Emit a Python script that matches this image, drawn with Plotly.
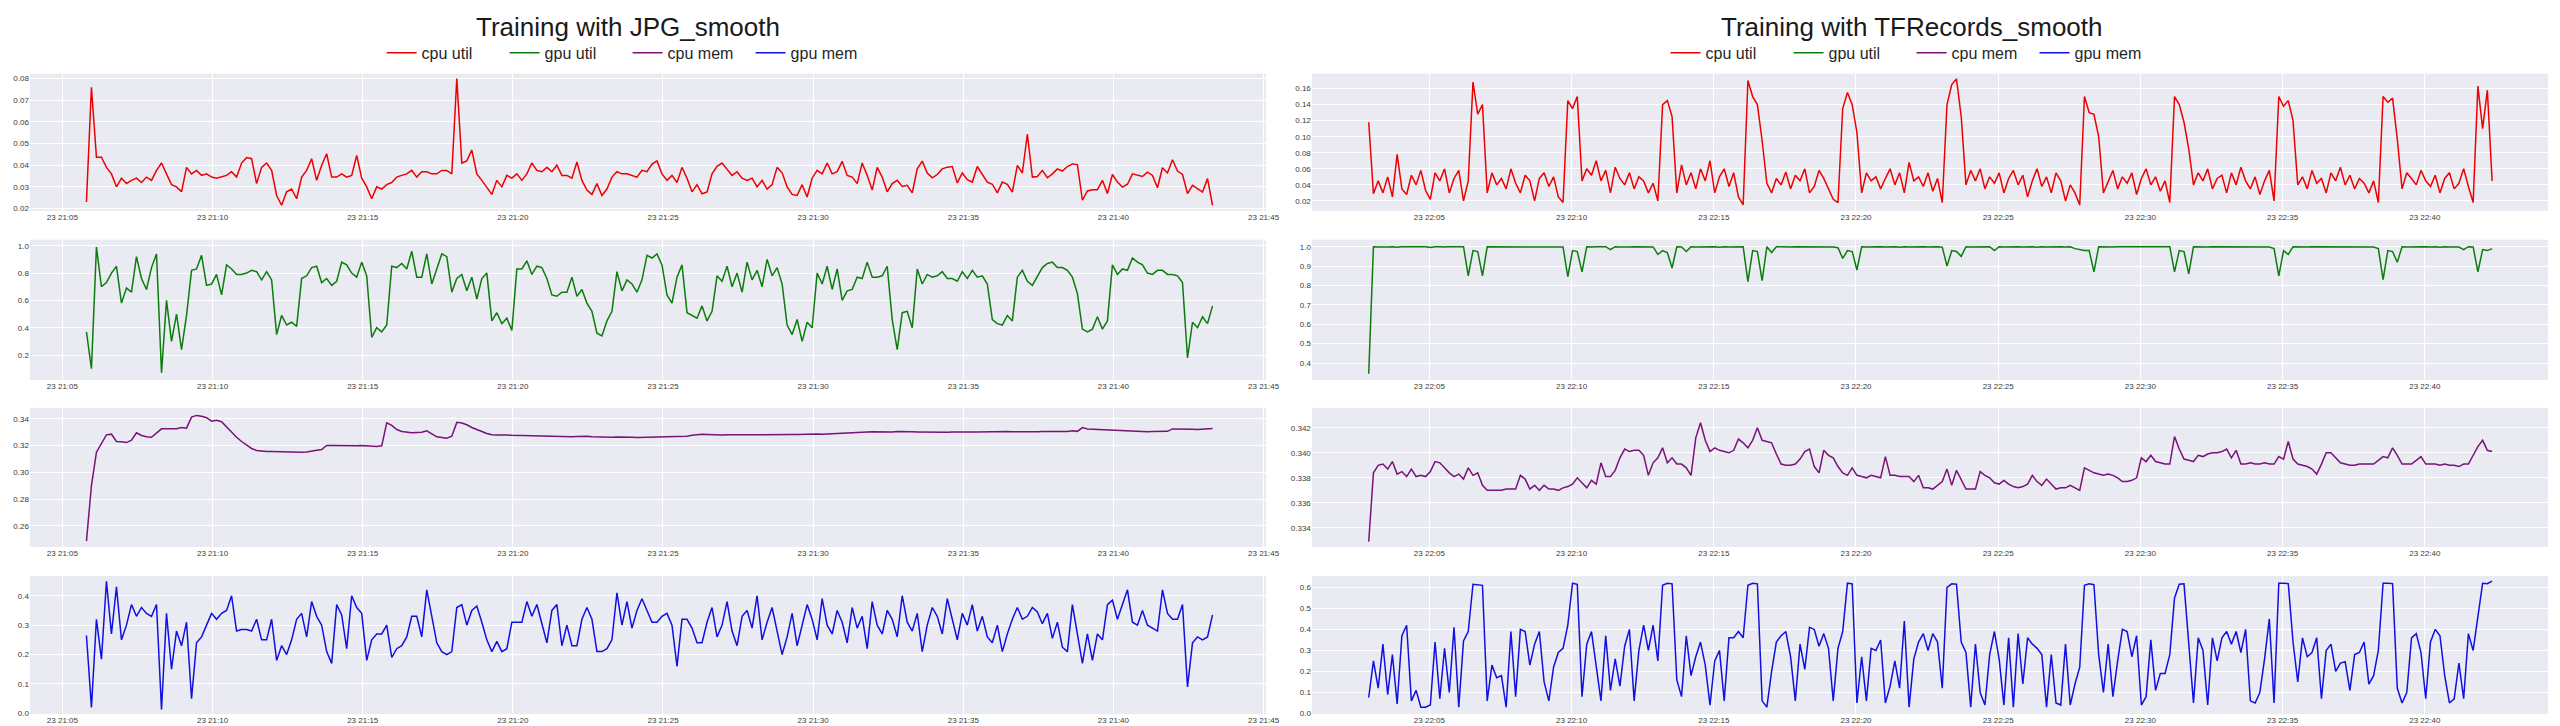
"""
Training resource usage: JPG vs TFRecords input pipelines.
Two columns of four stacked panels (cpu util, gpu util, cpu mem, gpu mem).
"""

import pandas as pd
import plotly.graph_objects as go

# ─── Data ─────────────────────────────────────────────────────────────────────

DAY = "2018-03-23"
JPG_START = f"{DAY} 21:05:48"
TFR_START = f"{DAY} 22:02:52"
SAMPLE = "10s"

SERIES_NAMES = ["cpu util", "gpu util", "cpu mem", "gpu mem"]
TITLES = ["Training with JPG_smooth", "Training with TFRecords_smooth"]

jpg_cpu_util = [
    0.023, 0.076, 0.0437, 0.0437, 0.039, 0.036, 0.030, 0.034, 0.0315, 0.033,
    0.034, 0.032, 0.0345, 0.033, 0.0376, 0.041, 0.036, 0.031, 0.030, 0.0277,
    0.039, 0.036, 0.0376, 0.0353, 0.036, 0.0345, 0.034, 0.0345, 0.0353, 0.037,
    0.0345, 0.041, 0.0435, 0.043, 0.0315, 0.039, 0.041, 0.0376, 0.026, 0.0215,
    0.0277, 0.029, 0.0245, 0.0345, 0.0376, 0.043, 0.033, 0.040, 0.0453, 0.0345,
    0.0345, 0.036, 0.0345, 0.0353, 0.0445, 0.034, 0.030, 0.0245, 0.030, 0.029,
    0.031, 0.032, 0.0345, 0.0353, 0.036, 0.0376, 0.0345, 0.037, 0.037, 0.036,
    0.036, 0.0376, 0.0376, 0.036, 0.080, 0.041, 0.042, 0.047, 0.036, 0.033,
    0.030, 0.0265, 0.033, 0.030, 0.0353, 0.034, 0.036, 0.033, 0.036, 0.041,
    0.0376, 0.037, 0.039, 0.037, 0.040, 0.0353, 0.0353, 0.034, 0.0415, 0.033,
    0.0285, 0.0265, 0.0315, 0.026, 0.029, 0.0345, 0.037, 0.036, 0.036, 0.0353,
    0.0345, 0.0376, 0.037, 0.0405, 0.042, 0.036, 0.033, 0.0353, 0.032, 0.039,
    0.034, 0.0277, 0.031, 0.0268, 0.0277, 0.036, 0.0395, 0.041, 0.038, 0.0353,
    0.037, 0.034, 0.033, 0.034, 0.030, 0.033, 0.029, 0.031, 0.039, 0.0365,
    0.030, 0.0265, 0.026, 0.031, 0.0253, 0.034, 0.0376, 0.036, 0.041, 0.036,
    0.037, 0.0418, 0.0353, 0.0345, 0.0315, 0.041, 0.0353, 0.0285, 0.039, 0.0345,
    0.0277, 0.0315, 0.033, 0.0302, 0.0307, 0.0272, 0.0383, 0.0419, 0.0364, 0.0342,
    0.0357, 0.0383, 0.0391, 0.0394, 0.0318, 0.0364, 0.0333, 0.0322, 0.0394, 0.0357,
    0.0322, 0.0312, 0.0272, 0.0322, 0.0312, 0.0276, 0.0399, 0.0364, 0.0544, 0.0345,
    0.0348, 0.0376, 0.0342, 0.036, 0.0383, 0.0373, 0.0394, 0.0406, 0.0403, 0.0238,
    0.0281, 0.0287, 0.0287, 0.033, 0.0269, 0.0357, 0.0322, 0.0299, 0.0312, 0.036,
    0.0353, 0.0348, 0.0368, 0.0353, 0.0296, 0.0388, 0.0364, 0.0425, 0.0373, 0.0357,
    0.0269, 0.0307, 0.0292, 0.0276, 0.0338, 0.0215,
]

jpg_gpu_util = [
    0.37, 0.10, 0.99, 0.70, 0.73, 0.80, 0.85, 0.58, 0.69, 0.66,
    0.92, 0.76, 0.68, 0.84, 0.94, 0.07, 0.60, 0.30, 0.50, 0.24,
    0.49, 0.82, 0.83, 0.93, 0.71, 0.72, 0.79, 0.64, 0.86, 0.83,
    0.79, 0.79, 0.80, 0.82, 0.81, 0.75, 0.81, 0.75, 0.35, 0.49,
    0.42, 0.44, 0.41, 0.76, 0.78, 0.84, 0.85, 0.73, 0.76, 0.71,
    0.74, 0.88, 0.86, 0.80, 0.77, 0.88, 0.78, 0.33, 0.40, 0.37,
    0.42, 0.85, 0.84, 0.87, 0.83, 0.96, 0.77, 0.77, 0.94, 0.72,
    0.83, 0.94, 0.92, 0.66, 0.76, 0.79, 0.67, 0.77, 0.61, 0.76,
    0.80, 0.45, 0.51, 0.43, 0.47, 0.38, 0.83, 0.83, 0.89, 0.79,
    0.85, 0.84, 0.76, 0.64, 0.63, 0.66, 0.66, 0.77, 0.63, 0.68,
    0.58, 0.52, 0.36, 0.34, 0.45, 0.52, 0.81, 0.67, 0.75, 0.72,
    0.66, 0.75, 0.93, 0.91, 0.94, 0.86, 0.64, 0.58, 0.77, 0.86,
    0.51, 0.49, 0.47, 0.56, 0.45, 0.52, 0.78, 0.74, 0.85, 0.70,
    0.80, 0.66, 0.88, 0.75, 0.82, 0.70, 0.90, 0.78, 0.84, 0.72,
    0.42, 0.35, 0.46, 0.30, 0.44, 0.40, 0.80, 0.72, 0.85, 0.68,
    0.83, 0.60, 0.67, 0.68, 0.77, 0.76, 0.88, 0.77, 0.77, 0.78,
    0.85, 0.46, 0.24, 0.51, 0.52, 0.40, 0.83, 0.72, 0.79, 0.77,
    0.78, 0.81, 0.76, 0.76, 0.74, 0.81, 0.76, 0.82, 0.77, 0.78,
    0.72, 0.46, 0.43, 0.42, 0.49, 0.45, 0.77, 0.82, 0.74, 0.71,
    0.78, 0.84, 0.87, 0.88, 0.84, 0.84, 0.82, 0.77, 0.65, 0.39,
    0.37, 0.39, 0.48, 0.39, 0.45, 0.86, 0.79, 0.83, 0.82, 0.91,
    0.88, 0.86, 0.80, 0.79, 0.82, 0.82, 0.79, 0.79, 0.78, 0.73,
    0.18, 0.44, 0.40, 0.48, 0.43, 0.56,
]

jpg_cpu_mem = [
    0.2486, 0.290, 0.315, 0.321, 0.328, 0.3285, 0.323, 0.3228, 0.3222, 0.324,
    0.3295, 0.3275, 0.3265, 0.3262, 0.329, 0.3325, 0.3325, 0.3327, 0.3325, 0.3335,
    0.333, 0.3412, 0.3425, 0.3418, 0.3408, 0.3382, 0.3388, 0.3378, 0.334, 0.3295,
    0.3262, 0.323, 0.3202, 0.3178, 0.3163, 0.3157, 0.3155, 0.3155, 0.3154, 0.3152,
    0.315, 0.315, 0.3152, 0.315, 0.3152, 0.316, 0.3165, 0.317, 0.320, 0.320,
    0.3199, 0.320, 0.320, 0.3199, 0.3199, 0.320, 0.3198, 0.3197, 0.3192, 0.3198,
    0.337, 0.335, 0.332, 0.3305, 0.330, 0.3295, 0.3298, 0.330, 0.331, 0.329,
    0.3265, 0.326, 0.3255, 0.327, 0.3373, 0.3368, 0.3355, 0.3335, 0.3318, 0.3305,
    0.329, 0.328, 0.3278, 0.328, 0.3278, 0.3276, 0.3275, 0.3276, 0.3274, 0.3272,
    0.327, 0.3271, 0.327, 0.3268, 0.327, 0.3269, 0.3267, 0.3266, 0.3268, 0.327,
    0.3269, 0.3266, 0.3264, 0.3262, 0.3261, 0.3262, 0.3264, 0.3265, 0.3264, 0.3262,
    0.3261, 0.3262, 0.3263, 0.3262, 0.326, 0.3261, 0.3262, 0.3264, 0.3266, 0.3268,
    0.327, 0.3276, 0.3282, 0.3284, 0.3283, 0.328, 0.3278, 0.3279, 0.3281, 0.328,
    0.3278, 0.3277, 0.3279, 0.328, 0.3281, 0.3282, 0.328, 0.3279, 0.3281, 0.3283,
    0.3284, 0.3283, 0.3282, 0.3284, 0.3286, 0.3287, 0.3286, 0.3285, 0.3287, 0.329,
    0.3294, 0.3297, 0.3299, 0.330, 0.3301, 0.330, 0.3302, 0.3303, 0.3302, 0.3301,
    0.330, 0.3302, 0.3304, 0.3305, 0.3304, 0.3303, 0.3302, 0.3301, 0.330, 0.3299,
    0.3298, 0.3299, 0.330, 0.3301, 0.330, 0.3299, 0.330, 0.3301, 0.3302, 0.3303,
    0.3304, 0.3302, 0.3303, 0.3303, 0.3304, 0.3303, 0.3302, 0.3304, 0.3305, 0.3304,
    0.3303, 0.3304, 0.3303, 0.3302, 0.3303, 0.3304, 0.3305, 0.3311, 0.3306, 0.3334,
    0.3324, 0.3322, 0.3323, 0.3321, 0.3319, 0.3317, 0.3314, 0.3312, 0.3310, 0.3307,
    0.3305, 0.3304, 0.3303, 0.3304, 0.3303, 0.3304, 0.3306, 0.3324, 0.3322, 0.3321,
    0.3322, 0.3321, 0.3320, 0.3321, 0.3322, 0.3328,
]

jpg_gpu_mem = [
    0.265, 0.02, 0.32, 0.184, 0.449, 0.27, 0.43, 0.25, 0.30, 0.37,
    0.33, 0.36, 0.34, 0.33, 0.37, 0.013, 0.34, 0.15, 0.28, 0.23,
    0.31, 0.05, 0.24, 0.26, 0.30, 0.34, 0.32, 0.34, 0.35, 0.40,
    0.28, 0.285, 0.285, 0.28, 0.32, 0.25, 0.25, 0.32, 0.18, 0.23,
    0.20, 0.25, 0.32, 0.34, 0.26, 0.38, 0.33, 0.30, 0.21, 0.17,
    0.37, 0.335, 0.22, 0.40, 0.36, 0.34, 0.18, 0.25, 0.27, 0.27,
    0.30, 0.19, 0.22, 0.23, 0.26, 0.33, 0.33, 0.26, 0.42, 0.33,
    0.24, 0.21, 0.20, 0.21, 0.36, 0.37, 0.30, 0.35, 0.365, 0.31,
    0.25, 0.21, 0.245, 0.21, 0.22, 0.31, 0.31, 0.31, 0.38, 0.33,
    0.37, 0.30, 0.24, 0.35, 0.37, 0.23, 0.30, 0.23, 0.23, 0.32,
    0.36, 0.32, 0.21, 0.21, 0.22, 0.25, 0.41, 0.30, 0.38, 0.29,
    0.35, 0.39, 0.35, 0.31, 0.31, 0.33, 0.34, 0.30, 0.16, 0.32,
    0.32, 0.29, 0.24, 0.24, 0.31, 0.36, 0.26, 0.30, 0.38, 0.28,
    0.23, 0.33, 0.35, 0.29, 0.40, 0.25, 0.31, 0.36, 0.28, 0.20,
    0.26, 0.34, 0.23, 0.30, 0.37, 0.32, 0.25, 0.39, 0.30, 0.27,
    0.35, 0.31, 0.24, 0.36, 0.29, 0.33, 0.22, 0.38, 0.30, 0.27,
    0.35, 0.32, 0.26, 0.40, 0.31, 0.28, 0.34, 0.21, 0.30, 0.36,
    0.33, 0.27, 0.39, 0.32, 0.25, 0.34, 0.30, 0.37, 0.28, 0.33,
    0.26, 0.24, 0.30, 0.21, 0.27, 0.32, 0.36, 0.32, 0.33, 0.36,
    0.345, 0.305, 0.34, 0.255, 0.31, 0.225, 0.21, 0.37, 0.27, 0.17,
    0.27, 0.18, 0.27, 0.25, 0.37, 0.385, 0.32, 0.37, 0.42, 0.31,
    0.30, 0.35, 0.30, 0.29, 0.28, 0.42, 0.34, 0.32, 0.32, 0.37,
    0.09, 0.24, 0.26, 0.25, 0.26, 0.335,
]

tfr_cpu_util = [
    0.118, 0.029, 0.045, 0.030, 0.050, 0.025, 0.078, 0.035, 0.028, 0.052,
    0.040, 0.058, 0.033, 0.022, 0.055, 0.045, 0.060, 0.030, 0.048, 0.058,
    0.020, 0.045, 0.168, 0.128, 0.140, 0.030, 0.055, 0.040, 0.048, 0.035,
    0.060, 0.042, 0.030, 0.052, 0.045, 0.020, 0.048, 0.055, 0.038, 0.050,
    0.025, 0.018, 0.145, 0.135, 0.150, 0.045, 0.060, 0.052, 0.070, 0.045,
    0.058, 0.030, 0.062, 0.048, 0.040, 0.055, 0.035, 0.050, 0.045, 0.030,
    0.042, 0.020, 0.140, 0.145, 0.125, 0.030, 0.065, 0.040, 0.055, 0.035,
    0.060, 0.045, 0.070, 0.030, 0.050, 0.060, 0.038, 0.055, 0.025, 0.015,
    0.170, 0.150, 0.140, 0.095, 0.042, 0.030, 0.048, 0.040, 0.056, 0.035,
    0.052, 0.045, 0.060, 0.030, 0.038, 0.058, 0.048, 0.035, 0.022, 0.018,
    0.135, 0.155, 0.140, 0.105, 0.030, 0.055, 0.045, 0.050, 0.035, 0.048,
    0.060, 0.040, 0.055, 0.030, 0.068, 0.045, 0.050, 0.038, 0.055, 0.032,
    0.048, 0.018, 0.140, 0.165, 0.172, 0.125, 0.040, 0.058, 0.045, 0.060,
    0.035, 0.050, 0.042, 0.055, 0.030, 0.048, 0.058, 0.040, 0.052, 0.025,
    0.045, 0.060, 0.038, 0.050, 0.030, 0.055, 0.045, 0.020, 0.040, 0.030,
    0.015, 0.150, 0.130, 0.128, 0.100, 0.030, 0.045, 0.058, 0.035, 0.050,
    0.042, 0.055, 0.028, 0.048, 0.060, 0.040, 0.050, 0.032, 0.045, 0.018,
    0.150, 0.140, 0.118, 0.085, 0.040, 0.055, 0.045, 0.060, 0.035, 0.048,
    0.052, 0.030, 0.055, 0.040, 0.062, 0.045, 0.035, 0.050, 0.028, 0.045,
    0.058, 0.020, 0.150, 0.138, 0.145, 0.120, 0.040, 0.050, 0.035, 0.058,
    0.042, 0.048, 0.030, 0.055, 0.045, 0.062, 0.040, 0.052, 0.035, 0.048,
    0.042, 0.030, 0.045, 0.018, 0.150, 0.143, 0.148, 0.097, 0.035, 0.055,
    0.048, 0.040, 0.058, 0.045, 0.038, 0.052, 0.030, 0.048, 0.055, 0.035,
    0.042, 0.060, 0.038, 0.018, 0.163, 0.110, 0.158, 0.045,
]

tfr_gpu_util = [
    0.345, 1.0, 0.998, 1.0, 0.999, 1.0, 0.997, 1.0, 1.0, 0.998,
    1.0, 0.999, 1.0, 0.996, 1.0, 1.0, 0.998, 1.0, 0.999, 1.0,
    1.0, 0.85, 0.98, 0.975, 0.85, 1.0, 1.0, 0.999, 1.0, 0.998,
    1.0, 1.0, 0.997, 1.0, 0.999, 1.0, 0.998, 1.0, 1.0, 0.999,
    1.0, 0.998, 0.845, 0.98, 0.975, 0.87, 1.0, 0.998, 1.0, 0.999,
    1.0, 0.985, 1.0, 0.998, 1.0, 0.999, 1.0, 1.0, 0.997, 1.0,
    0.999, 0.96, 0.98, 0.97, 0.89, 1.0, 0.999, 0.975, 1.0, 0.999,
    1.0, 0.998, 1.0, 1.0, 0.997, 1.0, 0.999, 1.0, 0.998, 1.0,
    0.82, 0.98, 0.975, 0.825, 1.0, 0.97, 1.0, 0.999, 1.0, 0.998,
    1.0, 1.0, 0.999, 1.0, 0.997, 1.0, 0.999, 1.0, 0.998, 0.995,
    0.94, 0.98, 0.975, 0.88, 1.0, 0.999, 1.0, 0.998, 1.0, 0.999,
    1.0, 1.0, 0.997, 1.0, 0.999, 1.0, 0.998, 1.0, 0.999, 1.0,
    1.0, 0.998, 0.90, 0.98, 0.975, 0.95, 1.0, 0.999, 1.0, 0.998,
    1.0, 1.0, 0.98, 1.0, 0.999, 1.0, 0.998, 1.0, 0.999, 1.0,
    1.0, 0.997, 1.0, 0.999, 1.0, 0.998, 1.0, 0.999, 1.0, 0.99,
    0.985, 0.98, 0.98, 0.87, 1.0, 0.999, 1.0, 0.998, 1.0, 1.0,
    0.999, 1.0, 0.997, 1.0, 0.999, 1.0, 0.998, 1.0, 0.999, 1.0,
    0.87, 0.98, 0.975, 0.86, 1.0, 0.999, 1.0, 0.998, 1.0, 1.0,
    0.999, 1.0, 0.997, 1.0, 0.999, 1.0, 0.998, 1.0, 0.999, 1.0,
    0.998, 0.99, 0.85, 0.98, 0.96, 1.0, 0.999, 1.0, 0.998, 1.0,
    1.0, 0.999, 1.0, 0.997, 1.0, 0.999, 1.0, 0.998, 1.0, 0.999,
    1.0, 1.0, 0.998, 0.99, 0.83, 0.98, 0.975, 0.92, 1.0, 0.999,
    1.0, 0.998, 1.0, 1.0, 0.999, 1.0, 0.997, 1.0, 0.999, 1.0,
    0.998, 0.985, 1.0, 0.999, 0.87, 0.985, 0.98, 0.99,
]

tfr_cpu_mem = [
    0.3329, 0.3384, 0.3390, 0.3391, 0.3387, 0.3393, 0.3383, 0.3385, 0.3381, 0.3387,
    0.3381, 0.3382, 0.3381, 0.3385, 0.3393, 0.3392, 0.3388, 0.3384, 0.3381, 0.3383,
    0.3379, 0.3388, 0.3382, 0.3384, 0.3374, 0.3370, 0.3370, 0.3370, 0.3370, 0.3371,
    0.3371, 0.3371, 0.3382, 0.3379, 0.3371, 0.3374, 0.3370, 0.3374, 0.3371, 0.3371,
    0.3370, 0.3372, 0.3373, 0.3375, 0.3380, 0.3376, 0.3372, 0.3378, 0.3375, 0.3392,
    0.3381, 0.3381, 0.3386, 0.3396, 0.3403, 0.3401, 0.3402, 0.3402, 0.3398, 0.3382,
    0.3392, 0.3396, 0.3404, 0.3392, 0.3396, 0.3391, 0.3391, 0.3388, 0.3382, 0.3412,
    0.3424, 0.3410, 0.3401, 0.3404, 0.3402, 0.3401, 0.3400, 0.3402, 0.3411, 0.3408,
    0.3404, 0.3410, 0.3420, 0.3410, 0.3409, 0.3408, 0.3399, 0.3391, 0.3390, 0.3390,
    0.3391, 0.3395, 0.3401, 0.3403, 0.3389, 0.3384, 0.3402, 0.3398, 0.3396, 0.3389,
    0.3384, 0.3382, 0.3388, 0.3382, 0.3381, 0.3380, 0.3382, 0.3381, 0.3380, 0.3397,
    0.3382, 0.3382, 0.3381, 0.3381, 0.3381, 0.3377, 0.3382, 0.3372, 0.3372, 0.3371,
    0.3374, 0.3377, 0.3387, 0.3374, 0.3386, 0.3379, 0.3371, 0.3371, 0.3371, 0.3385,
    0.3382, 0.3380, 0.3376, 0.3375, 0.3378, 0.3375, 0.3373, 0.3372, 0.3373, 0.3375,
    0.3382, 0.3377, 0.3374, 0.3379, 0.3375, 0.3371, 0.3372, 0.3372, 0.3374, 0.3372,
    0.3370, 0.3388, 0.3386, 0.3384, 0.3383, 0.3382, 0.3383, 0.3382, 0.3380, 0.3377,
    0.3377, 0.3378, 0.3380, 0.3396, 0.3393, 0.3398, 0.3393, 0.3392, 0.3391, 0.3391,
    0.3413, 0.3403, 0.3395, 0.3394, 0.3393, 0.3398, 0.3397, 0.3399, 0.3400, 0.3400,
    0.3401, 0.3403, 0.3396, 0.3402, 0.3391, 0.3391, 0.3392, 0.3391, 0.3391, 0.3392,
    0.3391, 0.3391, 0.3397, 0.3395, 0.3409, 0.3395, 0.3391, 0.3390, 0.3389, 0.3387,
    0.3383, 0.3391, 0.3400, 0.3400, 0.3396, 0.3392, 0.3391, 0.3390, 0.3390, 0.3391,
    0.3391, 0.3391, 0.3391, 0.3394, 0.3397, 0.3396, 0.3404, 0.3398, 0.3391, 0.3391,
    0.3391, 0.3394, 0.3397, 0.3391, 0.3391, 0.3391, 0.3390, 0.3391, 0.3390, 0.3390,
    0.3389, 0.3391, 0.3391, 0.3398, 0.3405, 0.3410, 0.3402, 0.3401,
]

tfr_gpu_mem = [
    0.076, 0.25, 0.12, 0.33, 0.09, 0.28, 0.045, 0.37, 0.42, 0.06,
    0.11, 0.03, 0.03, 0.04, 0.34, 0.07, 0.31, 0.10, 0.41, 0.03,
    0.345, 0.39, 0.615, 0.613, 0.61, 0.06, 0.23, 0.17, 0.18, 0.03,
    0.39, 0.08, 0.40, 0.39, 0.23, 0.33, 0.39, 0.15, 0.06, 0.22,
    0.29, 0.31, 0.42, 0.62, 0.615, 0.08, 0.33, 0.39, 0.23, 0.06,
    0.37, 0.11, 0.26, 0.13, 0.32, 0.40, 0.06, 0.30, 0.42, 0.30,
    0.42, 0.25, 0.61, 0.62, 0.617, 0.16, 0.08, 0.37, 0.18, 0.27,
    0.34, 0.23, 0.04, 0.25, 0.30, 0.06, 0.36, 0.36, 0.39, 0.36,
    0.61, 0.62, 0.617, 0.06, 0.03, 0.20, 0.34, 0.37, 0.39, 0.27,
    0.06, 0.33, 0.21, 0.41, 0.40, 0.32, 0.38, 0.31, 0.06, 0.31,
    0.39, 0.62, 0.617, 0.05, 0.27, 0.06, 0.31, 0.30, 0.35, 0.05,
    0.13, 0.25, 0.12, 0.44, 0.03, 0.26, 0.34, 0.38, 0.30, 0.38,
    0.34, 0.12, 0.60, 0.617, 0.615, 0.34, 0.29, 0.03, 0.33, 0.10,
    0.04, 0.28, 0.39, 0.26, 0.04, 0.36, 0.03, 0.38, 0.14, 0.36,
    0.33, 0.31, 0.28, 0.03, 0.28, 0.05, 0.04, 0.33, 0.04, 0.14,
    0.22, 0.61, 0.617, 0.613, 0.28, 0.10, 0.33, 0.08, 0.25, 0.40,
    0.39, 0.27, 0.37, 0.04, 0.08, 0.35, 0.11, 0.19, 0.19, 0.28,
    0.55, 0.615, 0.617, 0.33, 0.05, 0.36, 0.30, 0.04, 0.36, 0.25,
    0.36, 0.39, 0.33, 0.39, 0.29, 0.40, 0.06, 0.05, 0.10, 0.26,
    0.45, 0.05, 0.62, 0.62, 0.618, 0.34, 0.15, 0.36, 0.27, 0.29,
    0.36, 0.07, 0.30, 0.33, 0.20, 0.24, 0.246, 0.11, 0.28, 0.29,
    0.34, 0.14, 0.18, 0.30, 0.62, 0.62, 0.618, 0.12, 0.05, 0.10,
    0.36, 0.38, 0.29, 0.07, 0.34, 0.40, 0.37, 0.18, 0.05, 0.07,
    0.24, 0.07, 0.38, 0.30, 0.45, 0.62, 0.618, 0.63,
]

JPG_SERIES = [jpg_cpu_util, jpg_gpu_util, jpg_cpu_mem, jpg_gpu_mem]
TFR_SERIES = [tfr_cpu_util, tfr_gpu_util, tfr_cpu_mem, tfr_gpu_mem]

# ─── Style ────────────────────────────────────────────────────────────────────

W, H = 2560, 726
FONT = "'Liberation Sans', Arial, Helvetica, sans-serif"
LINE_COLORS = ["#ee0000", "#0a7d0a", "#7a1278", "#1010e0"]
BG = "#EAEAF2"
TICK_COLOR = "#3a3a3a"

# pixel boxes of the panels (left, right) and (top, bottom)
COL_PX = [(22, 1265), (1311, 2554)]
ROW_PX = [(66, 204), (233, 374), (402, 542), (571, 710)]

X_RANGES = [
    [f"{DAY} 21:03:55", f"{DAY} 21:45:05"],
    [f"{DAY} 22:00:52", f"{DAY} 22:44:20"],
]
Y_RANGES = [
    [[0.0189, 0.0823], [0.018, 1.044], [0.2442, 0.3482], [-0.0024, 0.4676]],
    [[0.0076, 0.1786], [0.313, 1.036], [0.33247, 0.3436], [-0.003, 0.655]],
]
Y_DTICK = [[0.01, 0.2, 0.02, 0.1], [0.02, 0.1, 0.002, 0.1]]
Y_FMT = [[".2f", ".1f", ".2f", ".1f"], [".2f", ".1f", ".3f", ".1f"]]

TITLE_X = [623, 1914]
LEGEND_Y = 45
TITLE_Y = 19

# ─── Figure ───────────────────────────────────────────────────────────────────

fig = go.Figure()
layout = {}

for col, (series, start) in enumerate([(JPG_SERIES, JPG_START), (TFR_SERIES, TFR_START)]):
    legend_id = "legend" if col == 0 else "legend2"
    for row, values in enumerate(series):
        n = col * 4 + row + 1
        suffix = "" if n == 1 else str(n)
        times = pd.date_range(start=start, periods=len(values), freq=SAMPLE)
        fig.add_trace(go.Scatter(
            x=times, y=values,
            mode="lines",
            name=SERIES_NAMES[row],
            line=dict(color=LINE_COLORS[row], width=1.5),
            xaxis="x" + suffix, yaxis="y" + suffix,
            legend=legend_id,
            hovertemplate="%{y:.3f}<extra></extra>",
        ))

        x0, x1 = COL_PX[col]
        top, bot = ROW_PX[row]
        layout["xaxis" + suffix] = dict(
            domain=[x0 / W, x1 / W],
            anchor="y" + suffix,
            type="date",
            range=X_RANGES[col],
            tick0=f"{DAY} 21:00:00",
            dtick=300000,
            tickformat="%d %H:%M",
            showgrid=True, gridcolor="white", gridwidth=1,
            zeroline=False, showline=False, ticks="",
            tickfont=dict(size=8, color=TICK_COLOR, family=FONT),
        )
        layout["yaxis" + suffix] = dict(
            domain=[(H - bot) / H, (H - top) / H],
            anchor="x" + suffix,
            range=Y_RANGES[col][row],
            dtick=Y_DTICK[col][row],
            tickformat=Y_FMT[col][row],
            showgrid=True, gridcolor="white", gridwidth=1,
            zeroline=False, showline=False, ticks="",
            tickfont=dict(size=8, color=TICK_COLOR, family=FONT),
        )

legend_common = dict(
    orientation="h",
    xanchor="center", yanchor="middle",
    y=(H - LEGEND_Y) / H,
    bgcolor="rgba(0,0,0,0)",
    font=dict(size=16, color="#262626", family=FONT),
    itemwidth=30,
    entrywidth=78,
)
layout["legend"] = dict(legend_common, x=TITLE_X[0] / W)
layout["legend2"] = dict(legend_common, x=TITLE_X[1] / W)

fig.update_layout(
    **layout,
    width=W, height=H,
    margin=dict(l=0, r=0, t=0, b=0),
    plot_bgcolor=BG,
    paper_bgcolor="white",
    font=dict(family=FONT, color="#262626"),
    showlegend=True,
    hovermode="closest",
)

for title, tx in zip(TITLES, TITLE_X):
    fig.add_annotation(
        text=title, x=tx / W, y=(H - TITLE_Y) / H,
        xref="paper", yref="paper",
        xanchor="center", yanchor="middle",
        showarrow=False,
        font=dict(size=26, color="#1a1a1a", family=FONT),
    )

fig.write_html("out.html")
